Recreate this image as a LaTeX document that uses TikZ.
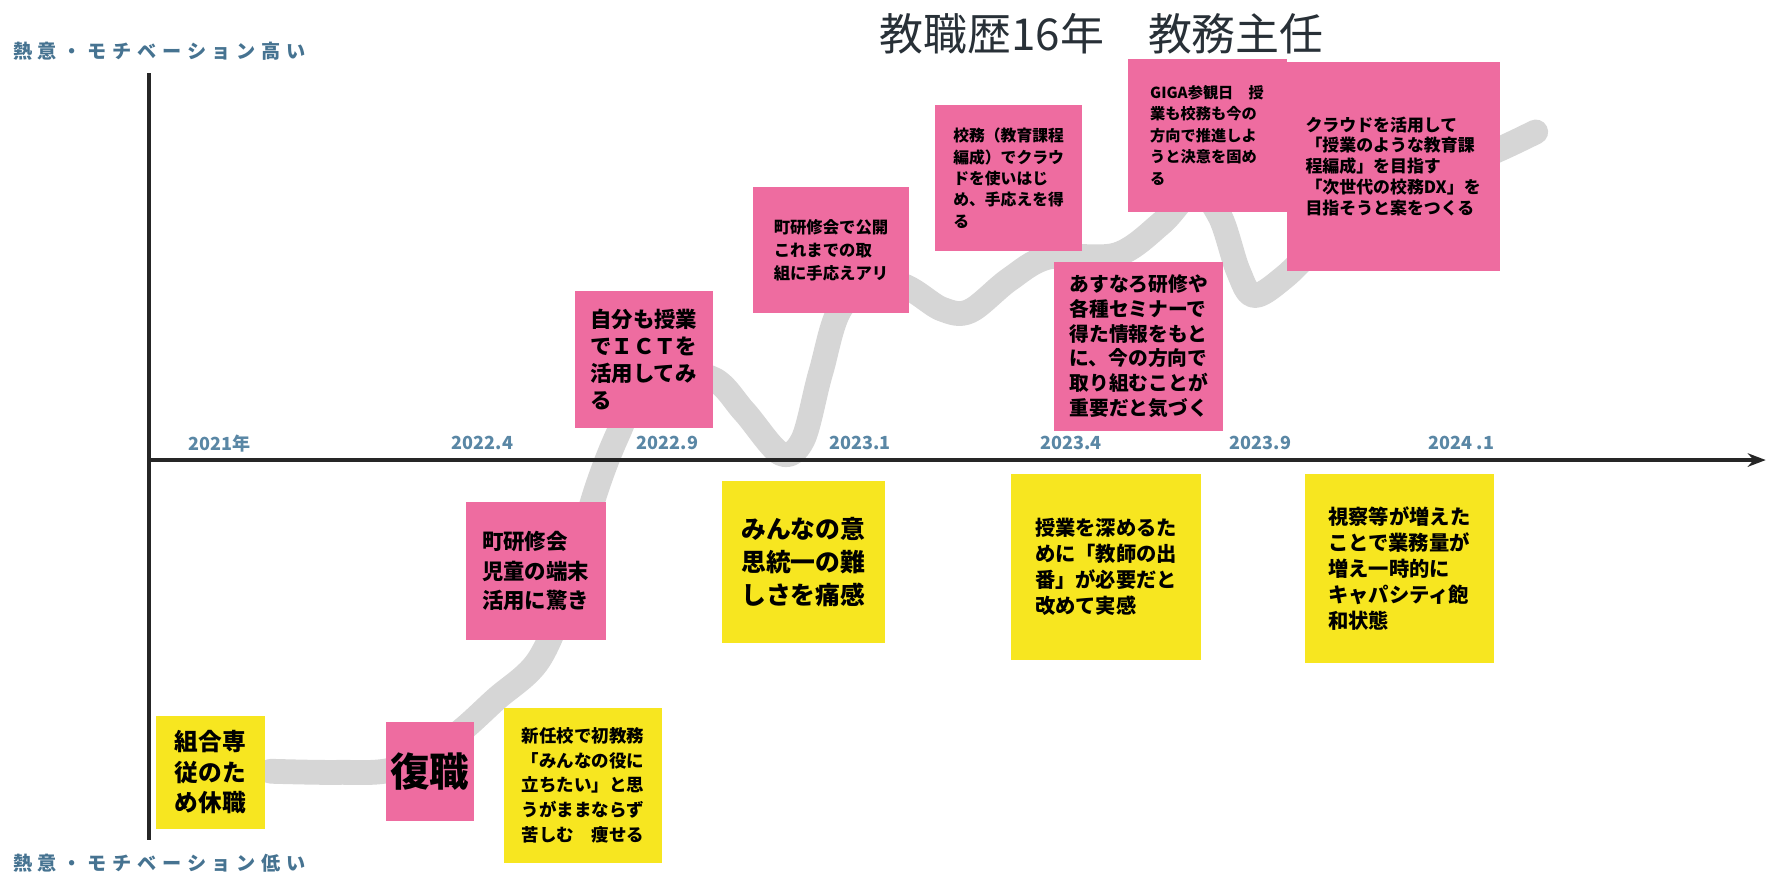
\documentclass[tikz,border=0pt]{standalone}
\usepackage{fontspec}
\newfontfamily\jp{Noto Sans CJK JP}
\newfontfamily\jpsp{Noto Sans CJK JP}[LetterSpace=30]
\usetikzlibrary{arrows.meta}
\definecolor{pinkc}{RGB}{238,108,160}
\definecolor{yellowc}{RGB}{247,230,32}
\definecolor{curvec}{RGB}{214,214,214}
\definecolor{yearc}{RGB}{90,135,165}
\definecolor{sidec}{RGB}{70,115,145}
\definecolor{titlec}{RGB}{40,48,55}
\newcommand{\fsz}[2]{\fontsize{#1pt}{#2pt}\selectfont}
\tikzset{
  sticky/.style={draw=none, inner sep=0pt, align=left, text=black},
  pinkbox/.style={sticky, fill=pinkc},
  yellowbox/.style={sticky, fill=yellowc},
  yearlbl/.style={text=yearc, font=\jp\bfseries\fsz{16}{18}},
  sidelbl/.style={text=sidec, anchor=west, font=\jpsp\bfseries\fsz{17}{20}},
  motiv/.style={draw=curvec, line width=22pt, line cap=round, line join=round},
  axisline/.style={draw=black!85, line width=3pt}
}
\begin{document}
\begin{tikzpicture}[x=1pt,y=-1pt]
\useasboundingbox (0,0) rectangle (1568,776);
% motivation curve
\draw[motiv] plot[smooth, tension=0.55] coordinates {
 (240,684) (300,685) (350,682) (400,655) (440,620) (478,585) (505,520)
 (527,440) (548,385) (575,335) (630,335) (660,365) (692,402) (712,390)
 (728,330) (748,270) (795,252) (835,274) (860,276) (895,248) (930,228)
 (990,226) (1030,198) (1060,168) (1082,192) (1098,240) (1112,262)
 (1140,245) (1200,190) (1290,150) (1335,130) (1362,117)};
% axes
\coordinate (vtop) at (132,65);
\coordinate (vbot) at (132,745);
\coordinate (hleft) at (132,408);
\coordinate (hright) at (1566,408);
\draw[axisline] (vtop) -- (vbot);
\draw[axisline, -{Stealth[length=16pt,width=12pt]}] (hleft) -- (hright);
% title and side labels
\node[text=titlec, font=\jp\fsz{39}{42}] (title) at (977,30) {教職歴16年　教務主任};
\node[sidelbl] (high) at (8,45) {熱意・モチベーション高い};
\node[sidelbl] (low) at (8,766) {熱意・モチベーション低い};
% year labels
\node[yearlbl] (y1) at (195,393) {2021年};
\node[yearlbl] (y2) at (428,393) {2022.4};
\node[yearlbl] (y3) at (592,393) {2022.9};
\node[yearlbl] (y4) at (763,393) {2023.1};
\node[yearlbl] (y5) at (950,393) {2023.4};
\node[yearlbl] (y6) at (1118,393) {2023.9};
\node[yearlbl] (y7) at (1296,393) {2024 .1};
% sticky notes
\node[yellowbox, minimum width=97pt, minimum height=100pt, font=\jp\bfseries\fsz{21}{27}] (kumiai) at (186.5,685) {組合専\\従のた\\め休職};
\node[pinkbox, minimum width=78pt, minimum height=88pt, font=\jp\bfseries\fsz{35}{38}] (fukushoku) at (381,684) {復職};
\node[yellowbox, minimum width=140pt, minimum height=137pt, font=\jp\bfseries\fsz{15.5}{22}] (shinnin) at (517,696.5) {新任校で初教務\\「みんなの役に\\立ちたい」と思\\うがままならず\\苦しむ　痩せる};
\node[pinkbox, minimum width=124pt, minimum height=123pt, font=\jp\bfseries\fsz{19}{26}] (machiken1) at (475,506.5) {町研修会\\児童の端末\\活用に驚き};
\node[pinkbox, minimum width=122pt, minimum height=122pt, font=\jp\bfseries\fsz{19}{24}] (jibun) at (571,319) {自分も授業\\でＩＣＴを\\活用してみ\\る};
\node[yellowbox, minimum width=145pt, minimum height=143pt, font=\jp\bfseries\fsz{22}{29}] (minna) at (712.5,498.5) {みんなの意\\思統一の難\\しさを痛感};
\node[pinkbox, minimum width=138pt, minimum height=112pt, font=\jp\bfseries\fsz{14.5}{20}] (machiken2) at (737,222) {町研修会で公開\\これまでの取\\組に手応えアリ};
\node[pinkbox, minimum width=131pt, minimum height=130pt, font=\jp\bfseries\fsz{14}{19}] (koumu) at (894.5,158) {校務（教育課程\\編成）でクラウ\\ドを使いはじ\\め、手応えを得\\る};
\node[pinkbox, minimum width=141pt, minimum height=136pt, font=\jp\bfseries\fsz{13.5}{19}] (giga) at (1070.5,120) {GIGA参観日　授\\業も校務も今の\\方向で推進しよ\\うと決意を固め\\る};
\node[pinkbox, minimum width=189pt, minimum height=185pt, font=\jp\bfseries\fsz{15}{18.5}] (cloud) at (1235.5,147.5) {クラウドを活用して\\「授業のような教育課\\程編成」を目指す\\「次世代の校務DX」を\\目指そうと案をつくる};
\node[pinkbox, minimum width=150pt, minimum height=150pt, font=\jp\bfseries\fsz{17.5}{22}] (asunaro) at (1010,307) {あすなろ研修や\\各種セミナーで\\得た情報をもと\\に、今の方向で\\取り組むことが\\重要だと気づく};
\node[yellowbox, minimum width=168pt, minimum height=165pt, font=\jp\bfseries\fsz{18}{23}] (jugyou) at (981,502.5) {授業を深めるた\\めに「教師の出\\番」が必要だと\\改めて実感};
\node[yellowbox, minimum width=168pt, minimum height=168pt, font=\jp\bfseries\fsz{18}{23}] (shisatsu) at (1241,504) {視察等が増えた\\ことで業務量が\\増え一時的に\\キャパシティ飽\\和状態};
\end{tikzpicture}
\end{document}
